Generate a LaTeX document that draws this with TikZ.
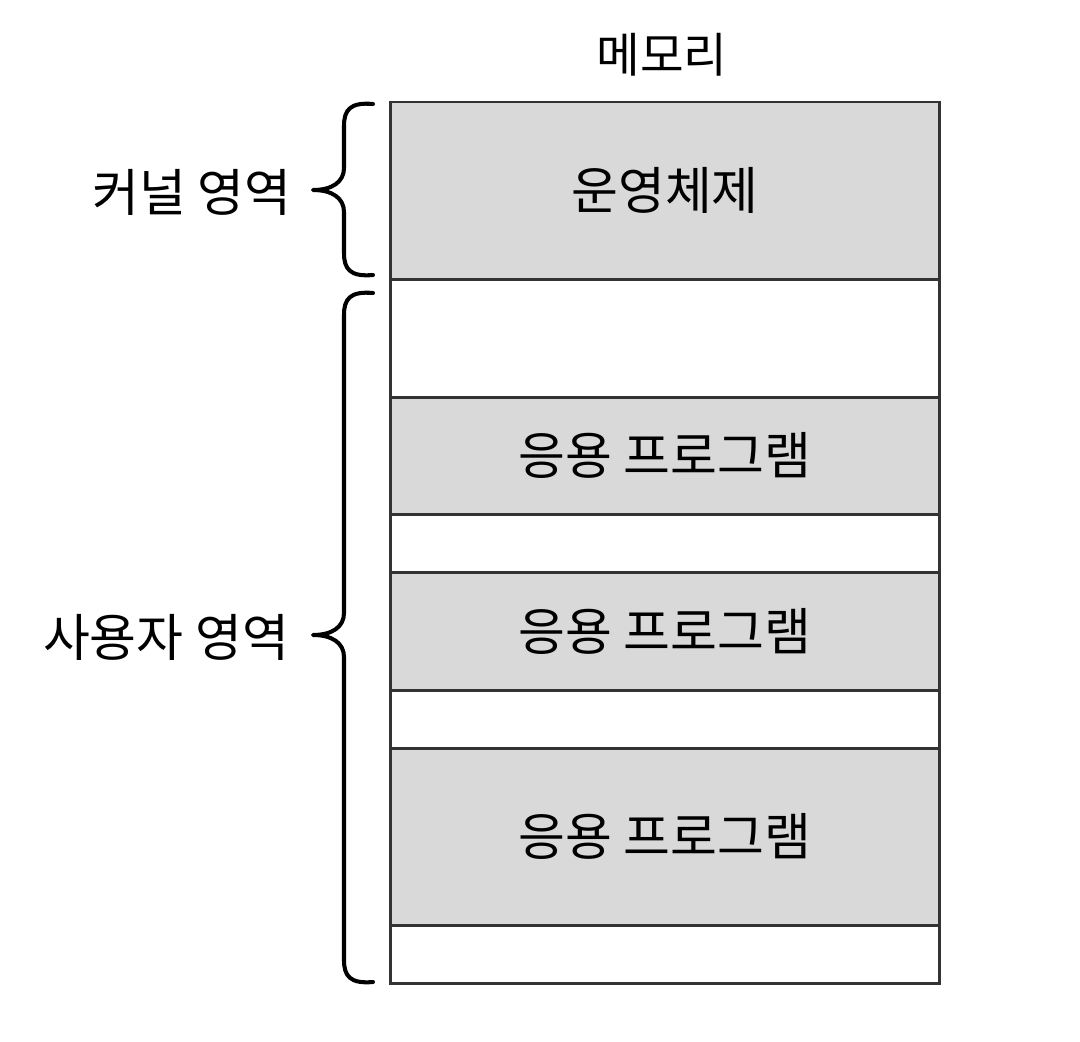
\documentclass[tikz,border=0pt]{standalone}
\usepackage{fontspec}
\setmainfont{Noto Sans CJK KR}
\usepackage{tikz}
\usetikzlibrary{calc}
\definecolor{memgray}{HTML}{D9D9D9}
\definecolor{memline}{HTML}{333333}

\tikzset{
  memcell/.style={draw=memline, line width=1.7pt, minimum width=11cm, inner sep=0pt},
  membrace/.style={line width=2.3pt, line cap=round, line join=round},
  memlabel/.style={font=\fontsize{29}{34}\selectfont}
}

\begin{document}
\begin{tikzpicture}[x=0.02cm, y=-0.02cm, memlabel]
\useasboundingbox (0,0) rectangle (1080,1042);
% memory cells, top to bottom
\foreach \n/\a/\b/\c/\t in {os/102/279/memgray/운영체제, free1/279/397/white/,
    app1/397/514/memgray/응용 프로그램, free2/514/572/white/,
    app2/572/690/memgray/응용 프로그램, free3/690/748/white/,
    app3/748/925/memgray/응용 프로그램, free4/925/983/white/}{
  \node[memcell, fill=\c, minimum height={(\b-\a)*0.02cm}] (\n) at (665,{(\a+\b)/2}) {\t};
}
\node[font=\fontsize{27}{32}\selectfont] (title) at (662,55) {메모리};

% kernel / user braces
\foreach \top/\bot/\mid in {104/275/190, 293/982/635}{
  \draw[membrace] (373,\top) .. controls (350,\top-2) and (344,\top+6) .. (344,\top+22)
    -- (344,\mid-22) .. controls (344,\mid-8) and (332,\mid) .. (313,\mid)
    .. controls (332,\mid) and (344,\mid+8) .. (344,\mid+22)
    -- (344,\bot-22) .. controls (344,\bot-6) and (350,\bot+2) .. (373,\bot);
}
\node (kernel) at (192,192) {커널 영역};
\node (user) at (166,637) {사용자 영역};
\end{tikzpicture}
\end{document}
